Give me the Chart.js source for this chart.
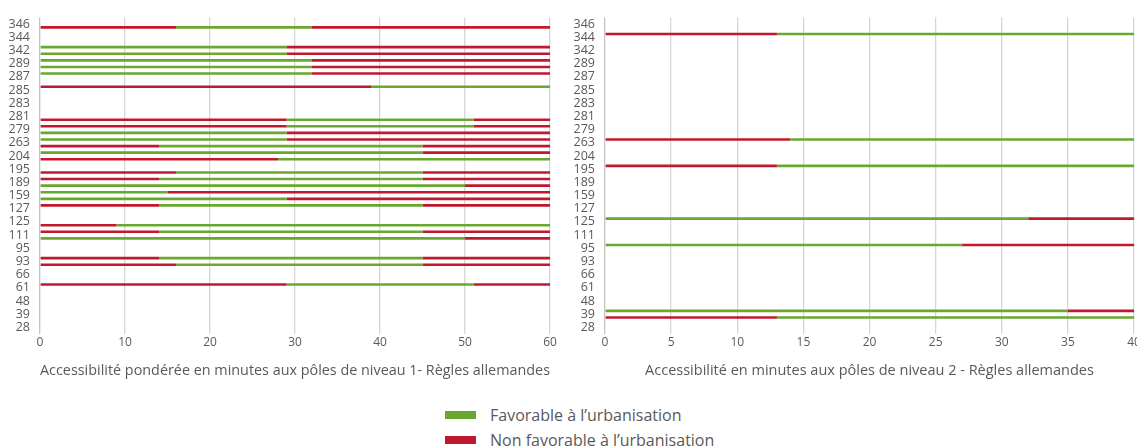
<!DOCTYPE html>
<html lang="fr">
<head>
<meta charset="utf-8">
<title>Accessibilité aux pôles - Règles allemandes</title>
<script src="https://cdn.jsdelivr.net/npm/chart.js@4.4.1/dist/chart.umd.min.js"></script>
<style>
  html, body { margin: 0; padding: 0; background: #fff; overflow: hidden; }
  body { width: 1137px; height: 447px; position: relative; font-family: "Open Sans", sans-serif; }
  .panel { position: absolute; top: 0; height: 390px; }
  #panel-n1 { left: 0; width: 560px; }
  #panel-n2 { left: 565px; width: 580px; }
  #legend { position: absolute; left: 445px; top: 402px; font-size: 16px; color: #595959; }
  #legend .item { display: flex; align-items: center; height: 25px; }
  #legend .swatch { width: 31px; height: 8px; margin-right: 14px; }
</style>
</head>
<body>
<div class="panel" id="panel-n1"><canvas id="chartN1"></canvas></div>
<div class="panel" id="panel-n2"><canvas id="chartN2"></canvas></div>
<div id="legend"></div>

<script>
// Communes, top to bottom
const COMMUNES = ['346', '344', '342', '289', '287', '285', '283', '281', '279', '263', '204', '195',
                  '189', '159', '127', '125', '111', '95', '93', '66', '61', '48', '39', '28'];

// Segment lengths in minutes.
// Each commune has an upper and a lower bar; each bar = red, then green, then red.
// Niveau 1 (0-60 min)
const N1_HAUT_ROUGE1 = [0, 0, 0, 0, 0, 39, 0, 0, 29, 0, 0, 0, 14, 0, 14, 0, 14, 0, 14, 0, 29, 0, 0, 0];
const N1_HAUT_VERT   = [0, 0, 29, 32, 32, 21, 0, 0, 22, 29, 45, 0, 31, 15, 31, 0, 31, 0, 31, 0, 22, 0, 0, 0];
const N1_HAUT_ROUGE2 = [0, 0, 31, 28, 28, 0, 0, 0, 9, 31, 15, 0, 15, 45, 15, 0, 15, 0, 15, 0, 9, 0, 0, 0];
const N1_BAS_ROUGE1  = [16, 0, 0, 0, 0, 0, 0, 29, 0, 14, 28, 16, 0, 0, 0, 9, 0, 0, 16, 0, 0, 0, 0, 0];
const N1_BAS_VERT    = [16, 0, 29, 32, 0, 0, 0, 22, 29, 31, 32, 29, 50, 29, 0, 51, 50, 0, 29, 0, 0, 0, 0, 0];
const N1_BAS_ROUGE2  = [28, 0, 31, 28, 0, 0, 0, 9, 31, 15, 0, 15, 10, 31, 0, 0, 10, 0, 15, 0, 0, 0, 0, 0];

// Niveau 2 (0-40 min)
const N2_HAUT_ROUGE1 = [0, 13, 0, 0, 0, 0, 0, 0, 0, 14, 0, 13, 0, 0, 0, 0, 0, 0, 0, 0, 0, 0, 0, 0];
const N2_HAUT_VERT   = [0, 27, 0, 0, 0, 0, 0, 0, 0, 26, 0, 27, 0, 0, 0, 32, 0, 27, 0, 0, 0, 0, 35, 0];
const N2_HAUT_ROUGE2 = [0, 0, 0, 0, 0, 0, 0, 0, 0, 0, 0, 0, 0, 0, 0, 8, 0, 13, 0, 0, 0, 0, 5, 0];
const N2_BAS_ROUGE1  = [0, 0, 0, 0, 0, 0, 0, 0, 0, 0, 0, 0, 0, 0, 0, 0, 0, 0, 0, 0, 0, 0, 13, 0];
const N2_BAS_VERT    = [0, 0, 0, 0, 0, 0, 0, 0, 0, 0, 0, 0, 0, 0, 0, 0, 0, 0, 0, 0, 0, 0, 27, 0];
const N2_BAS_ROUGE2  = [0, 0, 0, 0, 0, 0, 0, 0, 0, 0, 0, 0, 0, 0, 0, 0, 0, 0, 0, 0, 0, 0, 0, 0];

const LABEL_OK  = 'Favorable à l’urbanisation';
const LABEL_NOK = 'Non favorable à l’urbanisation';
const GREEN = '#6AA72F';
const RED   = '#C0192F';
const TEXT  = '#595959';

Chart.defaults.font.family = '"Open Sans", sans-serif';
Chart.defaults.color = TEXT;

function barSets(haut, bas) {
  const sets = [];
  [['haut', haut], ['bas', bas]].forEach(([stack, segs]) => {
    sets.push({ label: LABEL_NOK, data: segs[0], backgroundColor: RED,   stack });
    sets.push({ label: LABEL_OK,  data: segs[1], backgroundColor: GREEN, stack });
    sets.push({ label: LABEL_NOK, data: segs[2], backgroundColor: RED,   stack });
  });
  return sets;
}

function makePanel(id, max, step, title, datasets, padRight) {
  return new Chart(document.getElementById(id), {
    type: 'bar',
    data: { labels: COMMUNES, datasets },
    options: {
      indexAxis: 'y',
      responsive: true, maintainAspectRatio: false, animation: false,
      layout: { padding: { top: 14, right: padRight, left: 0, bottom: 0 } },
      datasets: { bar: { categoryPercentage: 1, barPercentage: 0.4, borderWidth: 0 } },
      plugins: { legend: { display: false }, tooltip: { enabled: false } },
      scales: {
        x: {
          min: 0, max, stacked: true,
          ticks: { stepSize: step, maxRotation: 0, padding: 1, font: { size: 12 } },
          grid: { color: ctx => ctx.tick && ctx.tick.value === 0 ? '#C4C4C4' : '#D6D6D6', lineWidth: 1.3, drawTicks: false },
          border: { display: false },
          title: { display: true, text: title, font: { size: 14.5 }, padding: { top: 4, bottom: 10 } },
          afterFit: s => { s.height = 56; },
        },
        y: {
          ticks: { autoSkip: false, padding: 10, font: { size: 12.5 } },
          grid: { display: false, drawTicks: false },
          border: { display: false },
          afterFit: s => { s.width = 40; },
        },
      },
    },
  });
}

makePanel('chartN1', 60, 10, 'Accessibilité pondérée en minutes aux pôles de niveau 1- Règles allemandes',
  barSets([N1_HAUT_ROUGE1, N1_HAUT_VERT, N1_HAUT_ROUGE2], [N1_BAS_ROUGE1, N1_BAS_VERT, N1_BAS_ROUGE2]), 10);

makePanel('chartN2', 40, 5, 'Accessibilité en minutes aux pôles de niveau 2 - Règles allemandes',
  barSets([N2_HAUT_ROUGE1, N2_HAUT_VERT, N2_HAUT_ROUGE2], [N2_BAS_ROUGE1, N2_BAS_VERT, N2_BAS_ROUGE2]), 11);

// Shared legend under both panels
document.getElementById('legend').innerHTML = [[LABEL_OK, GREEN], [LABEL_NOK, RED]].map(([t, c]) =>
  `<div class="item"><span class="swatch" style="background:${c}"></span>${t}</div>`).join('');
</script>
</body>
</html>
